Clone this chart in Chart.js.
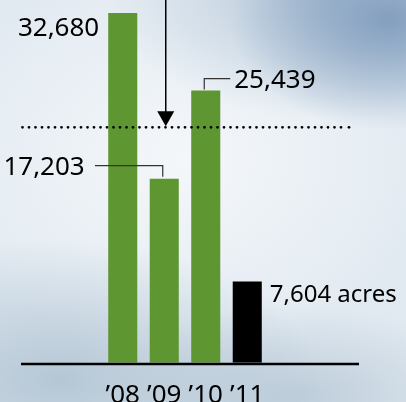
<!DOCTYPE html>
<html>
<head>
<meta charset="utf-8">
<script src="https://cdn.jsdelivr.net/npm/chart.js@4"></script>
<style>
  html, body { margin: 0; padding: 0; }
  body {
    width: 406px; height: 402px; overflow: hidden;
    background:
      radial-gradient(ellipse 160px 110px at 390px 20px, rgba(120,150,185,0.85), rgba(120,150,185,0) 100%),
      radial-gradient(ellipse 220px 120px at 330px 0px, rgba(150,175,200,0.6), rgba(150,175,200,0) 100%),
      radial-gradient(ellipse 260px 140px at 60px 380px, rgba(150,175,195,0.6), rgba(150,175,195,0) 100%),
      radial-gradient(ellipse 200px 90px at 300px 395px, rgba(160,182,200,0.55), rgba(160,182,200,0) 100%),
      radial-gradient(ellipse 250px 200px at 180px 160px, #f4f7fa, #e2eaf1 100%);
  }
  #wrap { position: relative; width: 406px; height: 402px; }
</style>
</head>
<body>
<div id="wrap"><canvas id="canva"></canvas></div>
<script>
const years = ["\u201908", "\u201909", "\u201910", "\u201911"];
const acres = [32680, 17203, 25439, 7604];
const barColors = ["#5e9632", "#5e9632", "#5e9632", "#000000"];
const valueLabels = ["32,680", "17,203", "25,439", "7,604 acres"];
const markerValue = 22000;

const FONT = '"Noto Sans", "Open Sans", sans-serif';

const decorations = {
  id: "decorations",
  afterDatasetsDraw(chart) {
    const c = chart.ctx;
    const y = chart.scales.y;
    const meta = chart.getDatasetMeta(0).data;
    const base = y.getPixelForValue(0);
    const my = y.getPixelForValue(markerValue);

    c.save();
    // baseline
    c.strokeStyle = "#000";
    c.lineWidth = 2.5;
    c.beginPath();
    c.moveTo(21, base + 1.2);
    c.lineTo(359, base + 1.2);
    c.stroke();

    // dotted marker line
    c.lineWidth = 2.8;
    c.lineCap = "round";
    c.setLineDash([0, 6.5]);
    c.beginPath();
    c.moveTo(22.5, my);
    c.lineTo(344, my);
    c.stroke();
    c.setLineDash([]);
    c.beginPath();
    c.arc(349, my, 1.4, 0, Math.PI * 2);
    c.fillStyle = "#000";
    c.fill();

    // arrow down to marker line
    const ax = meta[1].x + 1.5;
    c.lineCap = "butt";
    c.lineWidth = 1.5;
    c.beginPath();
    c.moveTo(ax, 0);
    c.lineTo(ax, my - 14);
    c.stroke();
    c.beginPath();
    c.moveTo(ax - 8.5, my - 16);
    c.lineTo(ax + 8.5, my - 16);
    c.lineTo(ax, my - 1);
    c.closePath();
    c.fill();

    // value labels
    c.font = "26px " + FONT;
    c.textBaseline = "alphabetic";
    const b = meta.map(m => ({ x: m.x, y: m.y, w: m.width }));

    c.textAlign = "right";
    c.fillText(valueLabels[0], b[0].x - b[0].w / 2 - 9, b[0].y + 23);

    // 17,203 with leader
    c.fillText(valueLabels[1], b[1].x - b[1].w / 2 - 65, b[1].y - 4);
    c.strokeStyle = "#333";
    c.lineWidth = 1.2;
    c.beginPath();
    c.moveTo(95, b[1].y - 13);
    c.lineTo(b[1].x - 1.5, b[1].y - 13);
    c.lineTo(b[1].x - 1.5, b[1].y - 2);
    c.stroke();

    // 25,439 with leader
    c.textAlign = "left";
    c.fillText(valueLabels[2], b[2].x + 28.5, b[2].y - 3);
    c.beginPath();
    c.moveTo(b[2].x - 1.5, b[2].y - 1);
    c.lineTo(b[2].x - 1.5, b[2].y - 12);
    c.lineTo(b[2].x + 24.5, b[2].y - 12);
    c.stroke();

    // 7,604 acres (a touch narrower, like the original face)
    c.font = "24px " + FONT;
    c.fillText(valueLabels[3], b[3].x + b[3].w / 2 + 8, b[3].y + 21);
    c.restore();
  }
};

new Chart(document.getElementById("canva").getContext("2d"), {
  type: "bar",
  data: {
    labels: years,
    datasets: [
      {
        data: acres,
        backgroundColor: barColors,
        borderWidth: 0,
        barPercentage: 0.7,
        categoryPercentage: 1,
      },
    ],
  },
  options: {
    responsive: true,
    maintainAspectRatio: false,
    animation: false,
    layout: { padding: { left: 102, right: 138, top: 0, bottom: -26 } },
    plugins: {
      legend: { display: false },
      tooltip: { enabled: false },
    },
    scales: {
      x: {
        grid: { display: false, drawTicks: false },
        border: { display: false },
        ticks: {
          color: "#000",
          padding: 17,
          font: { family: FONT, size: 26 },
          maxRotation: 0,
          autoSkip: false,
        },
      },
      y: {
        display: false,
        min: 0,
        max: 33900,
      },
    },
  },
  plugins: [decorations],
});
</script>
</body>
</html>
